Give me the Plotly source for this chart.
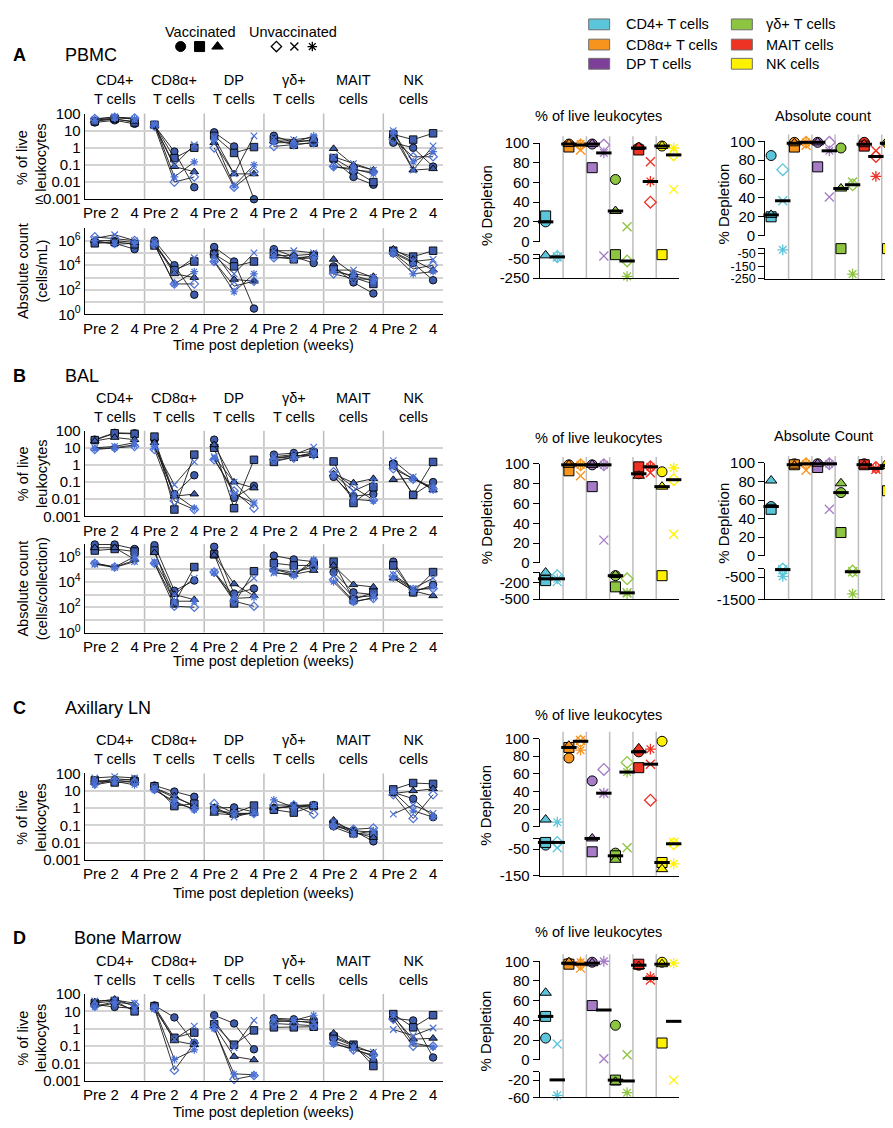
import numpy as np
import plotly.graph_objects as go

W, H = 893, 1128
OFF = 8  # page margin of the viewer: figure appears shifted by this many pixels
FONT = "Liberation Sans, Arial, Helvetica, sans-serif"

# ---------------- categories / labels ----------------
CELL_TYPES = ["CD4", "CD8", "DP", "GD", "MAIT", "NK"]
CELL_TITLES = ["CD4+<br>T cells", "CD8α+<br>T cells", "DP<br>T cells",
               "γδ+<br>T cells", "MAIT<br>cells", "NK<br>cells"]
LEGEND_NAMES = ["CD4+ T cells", "CD8α+ T cells", "DP T cells",
                "γδ+ T cells", "MAIT cells", "NK cells"]
TIMEPOINTS = ["Pre", "2", "4"]
ANIMALS = ["Vacc 1", "Vacc 2", "Vacc 3", "Unvacc 1", "Unvacc 2", "Unvacc 3"]
VACCINATED = [True, True, True, False, False, False]
SYMBOLS = ["circle", "square", "triangle-up", "diamond-open", "x-thin-open", "asterisk-open"]

# ---------------- time-course data (6 animals x [Pre, 2, 4]) ----------------
PBMC_PCT = {
    "CD4": [[30, 40, 25], [35, 50, 30], [40, 45, 35], [50, 60, 55], [45, 65, 45], [40, 55, 50]],
    "CD8": [[20, 0.6, 0.005], [22, 0.25, 1.0], [20, 0.08, 0.04], [18, 0.01, 0.02], [20, 0.1, 1.5], [25, 0.02, 0.15]],
    "DP": [[8, 1.2, 0.001], [5, 0.5, 1.1], [2, 0.03, 0.03], [1, 0.005, 0.04], [4, 0.03, 5], [3, 0.006, 0.1]],
    "GD": [[5, 2, 3], [3, 1.5, 2], [2.5, 2.5, 2.5], [1.2, 1.5, 2], [3.5, 3, 4], [2, 2, 5]],
    "MAIT": [[0.2, 0.02, 0.007], [0.25, 0.05, 0.01], [0.9, 0.1, 0.05], [0.08, 0.05, 0.04], [0.3, 0.12, 0.05], [0.08, 0.06, 0.03]],
    "NK": [[2, 1, 0.08], [6, 3, 7], [5, 0.05, 0.06], [3, 0.3, 0.3], [10, 0.05, 1.3], [8, 0.15, 0.6]],
}
PBMC_ABS = {
    "CD4": [[7e5, 6e5, 2e5], [6e5, 8e5, 5e5], [1e6, 1e6, 7e5], [2e6, 1.5e6, 1e6], [1.5e6, 3e6, 1e6], [1e6, 5e5, 6e5]],
    "CD8": [[1e6, 1e4, 40], [4e5, 4e3, 2e4], [6e5, 2e3, 1e3], [5e5, 300, 300], [7e5, 3e3, 4e4], [5e5, 300, 3e3]],
    "DP": [[3e5, 2e4, 3], [8e4, 8e3, 2e4], [1e5, 700, 500], [2e4, 200, 500], [6e4, 2e3, 1e5], [2e4, 70, 2e3]],
    "GD": [[2e5, 5e4, 1.5e4], [1e5, 3e4, 6e4], [6e4, 6e4, 8e4], [4e4, 4e4, 5e4], [1.5e5, 1.5e5, 1e5], [5e4, 3e4, 4e4]],
    "MAIT": [[8e3, 400, 50], [5e3, 1e3, 300], [3e4, 2e3, 1.2e3], [2e3, 800, 700], [4e3, 4e3, 1e3], [3e3, 1.5e3, 500]],
    "NK": [[1e5, 1.5e4, 600], [1.5e5, 5e4, 1.5e5], [2e5, 3e4, 4e3], [1e5, 5e3, 1e4], [1.2e5, 2e4, 3e4], [8e4, 2e3, 3e3]],
}
BAL_PCT = {
    "CD4": [[30, 75, 70], [28, 70, 65], [25, 40, 30], [8, 10, 12], [10, 12, 20], [9, 10, 15]],
    "CD8": [[30, 0.02, 0.25], [45, 0.0025, 4], [20, 0.015, 0.02], [8, 0.008, 0.0025], [10, 0.07, 1.5], [12, 0.02, 0.003]],
    "DP": [[30, 0.012, 0.06], [10, 0.003, 2], [15, 0.1, 0.045], [2, 0.03, 0.003], [3, 0.1, 0.006], [2.5, 0.02, 0.006]],
    "GD": [[4, 5, 6], [1.5, 3, 5], [2.5, 3.5, 3.5], [2, 2.5, 4], [3, 4, 11], [2.5, 3, 5]],
    "MAIT": [[0.2, 0.015, 0.02], [1.6, 0.006, 0.05], [0.3, 0.09, 0.16], [0.4, 0.05, 0.009], [0.3, 0.03, 0.1], [0.25, 0.01, 0.008]],
    "NK": [[1.2, 0.018, 0.1], [1, 0.018, 1.5], [0.14, 0.17, 0.035], [0.6, 0.15, 0.04], [1.8, 0.2, 0.035], [0.8, 0.15, 0.05]],
}
BAL_ABS = {
    "CD4": [[9e6, 9e6, 4e6], [3e6, 4e6, 2.5e6], [5e6, 5e6, 6e5], [3e5, 1.5e5, 5e5], [2.5e5, 1.4e5, 4e5], [3e5, 1.5e5, 1e6]],
    "CD8": [[8e6, 2e3, 1.3e4], [3e6, 200, 1.5e5], [2e6, 1e3, 400], [3e5, 120, 100], [4e5, 1e3, 2e4], [3e5, 300, 300]],
    "DP": [[6e6, 1.2e3, 3e3], [1.5e6, 200, 7e4], [1.3e6, 7e3, 800], [6e4, 300, 120], [6e4, 800, 2e4], [5e4, 500, 600]],
    "GD": [[1.2e6, 6e5, 4e5], [3e5, 2e5, 2e5], [1e5, 4e4, 8e4], [1e5, 6e4, 1.5e5], [5e4, 4e4, 3e5], [6e4, 3e4, 6e5]],
    "MAIT": [[6e4, 1.5e3, 1e3], [4e5, 400, 1.5e3], [2e5, 6e3, 4e3], [1.5e4, 300, 500], [3e4, 600, 800], [1e4, 250, 600]],
    "NK": [[4e5, 1.5e3, 6e3], [2e5, 1.5e3, 6e4], [2e4, 2e3, 800], [3e4, 2.5e3, 3e3], [4e4, 3e3, 2e4], [2e4, 2e3, 4e3]],
}
LN_PCT = {
    "CD4": [[35, 40, 45], [40, 30, 35], [30, 50, 40], [25, 40, 30], [55, 65, 55], [22, 35, 22]],
    "CD8": [[20, 9, 4.5], [18, 1.3, 1.8], [15, 5, 1.2], [12, 2, 0.9], [14, 4, 1.5], [11, 2.5, 0.8]],
    "DP": [[1.0, 1.1, 0.6], [0.8, 0.5, 1.4], [0.5, 0.4, 0.5], [1.8, 0.5, 0.5], [1.2, 0.3, 0.6], [0.7, 0.45, 0.5]],
    "GD": [[1, 1.3, 1.5], [0.8, 0.55, 1.3], [1.1, 1.2, 1.2], [1.5, 1.5, 0.45], [0.9, 1.4, 1.6], [3, 1.1, 1.4]],
    "MAIT": [[0.09, 0.05, 0.012], [0.12, 0.035, 0.03], [0.2, 0.04, 0.02], [0.1, 0.06, 0.07], [0.15, 0.05, 0.04], [0.08, 0.03, 0.05]],
    "NK": [[8, 3.5, 0.3], [12, 28, 25], [7, 10, 13], [6, 0.25, 6], [0.45, 1.5, 0.5], [9, 0.7, 0.3]],
}
BM_PCT = {
    "CD4": [[25, 18, 15], [30, 40, 10], [35, 50, 20], [20, 35, 25], [40, 45, 30], [18, 30, 12]],
    "CD8": [[22, 4.5, 0.15], [20, 0.3, 0.6], [18, 0.2, 0.12], [15, 0.004, 0.15], [14, 0.25, 1.4], [16, 0.017, 0.06]],
    "DP": [[6, 2, 0.065], [1.8, 0.12, 0.8], [1.5, 0.025, 0.016], [1.2, 0.0012, 0.002], [3, 0.08, 3], [1.0, 0.0025, 0.0022]],
    "GD": [[4, 3.5, 3.2], [1.2, 1.2, 1.3], [3, 2.5, 2.8], [2, 1.8, 1.5], [2.5, 3, 2], [3.5, 3, 6]],
    "MAIT": [[0.3, 0.1, 0.013], [0.35, 0.12, 0.007], [0.55, 0.11, 0.04], [0.15, 0.06, 0.03], [0.2, 0.08, 0.045], [0.13, 0.07, 0.025]],
    "NK": [[4, 3, 0.022], [7, 1.2, 6], [5, 0.25, 0.28], [3.5, 0.1, 0.1], [0.9, 0.4, 1.1], [6, 0.15, 0.09]],
}

# ---------------- % depletion data: (vaccinated [o, sq, tri], unvaccinated [dia, x, ast]) ----------------
DEP_PBMC_PCT = {
    "CD4": ([20, 26, -17], [-30, -33, -35]),
    "CD8": ([99, 96, 99], [98, 93, 99]),
    "DP": ([99, 75, 99], [98, -23, 90]),
    "GD": ([63, -10, 31], [-75, 15, -233]),
    "MAIT": ([95, 93, 96], [40, 81, 61]),
    "NK": ([97, -10, 97], [88, 53, 95]),
}
DEP_PBMC_ABS = {
    "CD4": ([85, 20, 22], [70, 37, -17]),
    "CD8": ([99, 94, 98], [99, 96, 99]),
    "DP": ([99, 73, 99], [99, 41, 90]),
    "GD": ([93, -8, 50], [54, 57, -211]),
    "MAIT": ([99, 95, 97], [84, 90, 63]),
    "NK": ([98, -8, 99], [97, 95, 93]),
}
DEP_BAL_PCT = {
    "CD4": ([-137, -169, -25], [-81, -188, -137]),
    "CD8": ([99, 93, 99], [99, 88, 99]),
    "DP": ([99, 77, 99], [99, 23, 99]),
    "GD": ([-81, -281, -69], [-137, -388, -400]),
    "MAIT": ([90, 97, 88], [97, 91, 97]),
    "NK": ([92, -81, 77], [84, 29, 96]),
}
DEP_BAL_ABS = {
    "CD4": ([53, 50, 81], [-140, -165, -470]),
    "CD8": ([99, 98, 97], [99, 92, 99]),
    "DP": ([99, 95, 99], [99, 50, 99]),
    "GD": ([68, 25, 78], [-230, -260, -1250]),
    "MAIT": ([99, 98, 97], [95, 93, 94]),
    "NK": ([98, 70, 97], [96, 90, 95]),
}
DEP_LN_PCT = {
    "CD4": ([-35, -25, 8], [-25, -45, 5]),
    "CD8": ([78, 90, 92], [97, 98, 87]),
    "DP": ([52, -60, -10], [65, 38, 38]),
    "GD": ([-65, -75, -90], [73, -45, 62]),
    "MAIT": ([85, 67, 89], [30, 71, 88]),
    "NK": ([97, -100, -125], [-30, -25, -105]),
}
DEP_BM_PCT = {
    "CD4": ([22, 44, 68], [None, 16, -55]),
    "CD8": ([98, 97, 99], [97, 93, 99]),
    "DP": ([99, 55, 98], [None, 1, 100]),
    "GD": ([35, -20, -24], [None, 5, -49]),
    "MAIT": ([96, 97, 95], [None, 81, 84]),
    "NK": ([99, 17, 97], [None, -20, 98]),
}

# ---------------- styles ----------------
MCOL = {"CD4": "#5BC5DB", "CD8": "#F7941E", "DP": "#A57CC5",
        "GD": "#8DC540", "MAIT": "#EE3224", "NK": "#FFF200"}
LCOL = {"CD4": "#5BC5DB", "CD8": "#F7941E", "DP": "#7E3F98",
        "GD": "#8DC540", "MAIT": "#EE3224", "NK": "#FFF200"}
VAC_FILL = "#3E5CAB"
UNV_COL = "#4D72D6"
SEP_COL = "#BDBDBD"
GRID_COL = "#D3D3D3"


def PX(x):
    return (x - OFF) / W


def PY(y):
    return 1 - (y - OFF) / H


def axkey(c, n):
    return f"{c}axis" if n == 1 else f"{c}axis{n}"


def axref(c, n):
    return c if n == 1 else f"{c}{n}"


fig = go.Figure()
layout = dict(width=W, height=H, margin=dict(l=0, r=0, t=0, b=0),
              paper_bgcolor="white", plot_bgcolor="rgba(0,0,0,0)",
              showlegend=False, font=dict(family=FONT, size=14.5, color="black"))
shapes, annotations = [], []


def ann(text, x, y, size=14.5, xanchor="center", angle=0, bold=False):
    if bold:
        text = f"<b>{text}</b>"
    annotations.append(dict(text=text, x=PX(x), y=PY(y), xref="paper", yref="paper",
                            xanchor=xanchor, yanchor="middle", showarrow=False,
                            textangle=angle, font=dict(size=size, family=FONT, color="black")))


LX0, LX1 = 83, 442


def add_left(n, data, ytop, ybot, kind, le001=False, titles=True):
    xr, yr = axref("x", n), axref("y", n)
    layout[axkey("x", n)] = dict(domain=[PX(LX0), PX(LX1)], range=[-0.5, 17.5], anchor=yr,
                                 tickmode="array", tickvals=list(range(18)), ticktext=TIMEPOINTS * 6,
                                 showline=True, linecolor="black", linewidth=1.3, ticks="",
                                 showgrid=False, zeroline=False, tickfont=dict(size=15))
    if kind == "pct":
        rng = [-3, 2]
        tv = [1e-3, 1e-2, 0.1, 1, 10, 100]
        tt = ["≤0.001" if le001 else "0.001", "0.01", "0.1", "1", "10", "100"]
    else:
        rng = [0, 7]
        tv = [10 ** k for k in range(8)]
        tt = ["10<sup>0</sup>", " ", "10<sup>2</sup>", " ", "10<sup>4</sup>", " ", "10<sup>6</sup>", " "]
    layout[axkey("y", n)] = dict(domain=[PY(ybot), PY(ytop)], type="log", range=rng, anchor=xr,
                                 tickmode="array", tickvals=tv, ticktext=tt,
                                 showline=True, linecolor="black", linewidth=1.3, ticks="",
                                 showgrid=True, gridcolor=GRID_COL, gridwidth=1.5,
                                 zeroline=False, tickfont=dict(size=15))
    for k in range(1, 6):
        shapes.append(dict(type="line", xref=xr, yref=f"{yr} domain", x0=3 * k - 0.5, x1=3 * k - 0.5,
                           y0=0, y1=1, line=dict(color=SEP_COL, width=1.5), layer="below"))
    for a, name in enumerate(ANIMALS):
        xs, ys = [], []
        for g, ct in enumerate(CELL_TYPES):
            xs += [3 * g, 3 * g + 1, 3 * g + 2, None]
            ys += list(data[ct][a]) + [None]
        if VACCINATED[a]:
            marker = dict(symbol=SYMBOLS[a], size=7.5, color=VAC_FILL, line=dict(color="black", width=0.9))
        else:
            marker = dict(symbol=SYMBOLS[a], size=6.5, color=UNV_COL, line=dict(color=UNV_COL, width=1.2))
        fig.add_trace(go.Scatter(x=xs, y=ys, xaxis=xr, yaxis=yr, mode="lines+markers", name=name,
                                 line=dict(color="#1A1A1A", width=0.9), marker=marker,
                                 cliponaxis=False, connectgaps=False))
    if titles:
        for g, t in enumerate(CELL_TITLES):
            annotations.append(dict(text=t, x=3 * g + 1, xref=xr, y=PY(ytop - 24), yref="paper",
                                    xanchor="center", yanchor="middle", showarrow=False,
                                    font=dict(size=14.5, family=FONT)))


def add_right(nt, nb, data, xl, xr_full, y100, y0, bt, bb, brange, bticks, bfont=15):
    unit = (xr_full - xl) / 12.0
    xend = min(xr_full, W)
    rng = [-0.5, -0.5 + (xend - xl) / unit]
    xdom = [PX(xl), PX(xend)]
    xt, yt, xb, yb = axref("x", nt), axref("y", nt), axref("x", nb), axref("y", nb)
    layout[axkey("x", nt)] = dict(domain=xdom, range=rng, anchor=yt, visible=False)
    layout[axkey("y", nt)] = dict(domain=[PY(y0), PY(y100)], range=[0, 100], anchor=xt,
                                  tickvals=[0, 20, 40, 60, 80, 100], showline=True, linecolor="black",
                                  linewidth=1.3, ticks="outside", ticklen=6, tickwidth=1.3,
                                  tickcolor="black", showgrid=False, zeroline=False,
                                  tickfont=dict(size=15))
    layout[axkey("x", nb)] = dict(domain=xdom, range=rng, anchor=yb, showline=True, linecolor="black",
                                  linewidth=1.3, showticklabels=False, ticks="", showgrid=False,
                                  zeroline=False)
    layout[axkey("y", nb)] = dict(domain=[PY(bb), PY(bt)], range=brange, anchor=xb,
                                  tickmode="array", tickvals=list(bticks) + [brange[1]],
                                  ticktext=[str(v) for v in bticks] + [" "],
                                  showline=True, linecolor="black", linewidth=1.3, ticks="outside",
                                  ticklen=6, tickwidth=1.3, tickcolor="black", showgrid=False,
                                  zeroline=False, tickfont=dict(size=bfont))
    for k in range(1, 6):
        shapes.append(dict(type="line", xref=xt, yref="paper", x0=2 * k - 0.5, x1=2 * k - 0.5,
                           y0=PY(bb), y1=PY(y100 - 7), line=dict(color=SEP_COL, width=1.5),
                           layer="below"))
    # individual animals
    for a, name in enumerate(ANIMALS):
        vac = VACCINATED[a]
        for top in (True, False):
            xs, ys, cs = [], [], []
            for g, ct in enumerate(CELL_TYPES):
                v = data[ct][0 if vac else 1][a % 3]
                if v is None or (v >= 0) != top:
                    continue
                xs.append(2 * g + (0 if vac else 1))
                ys.append(v)
                cs.append(MCOL[ct])
            if not xs:
                continue
            if vac:
                marker = dict(symbol=SYMBOLS[a], size=10, color=cs, line=dict(color="black", width=1))
            else:
                marker = dict(symbol=SYMBOLS[a], size=9, color=cs, line=dict(color=cs, width=1.3))
            fig.add_trace(go.Scatter(x=xs, y=ys, mode="markers", name=name, marker=marker,
                                     xaxis=xt if top else xb, yaxis=yt if top else yb,
                                     cliponaxis=False))
    # medians
    for top in (True, False):
        xs, ys = [], []
        for g, ct in enumerate(CELL_TYPES):
            for side in (0, 1):
                vals = [v for v in data[ct][side] if v is not None]
                m = float(np.median(vals))
                if (m >= 0) == top:
                    xs.append(2 * g + side)
                    ys.append(m)
        if xs:
            fig.add_trace(go.Scatter(x=xs, y=ys, mode="markers", name="median",
                                     marker=dict(symbol="line-ew", size=11, color="black",
                                                 line=dict(color="black", width=3)),
                                     xaxis=xt if top else xb, yaxis=yt if top else yb,
                                     cliponaxis=False))


# ---------------- left time-course panels ----------------
add_left(1, PBMC_PCT, 106, 193, "pct", le001=True)
add_left(2, PBMC_ABS, 222.5, 310, "abs", titles=False)
add_left(3, BAL_PCT, 428, 515, "pct")
add_left(4, BAL_ABS, 543, 633, "abs", titles=False)
add_left(5, LN_PCT, 776, 864, "pct")
add_left(6, BM_PCT, 1000, 1088, "pct")

# ---------------- right depletion panels ----------------
add_right(7, 8, DEP_PBMC_PCT, 539, 679, 136, 236, 249, 273, [-250, -7], [-50, -250])
add_right(9, 10, DEP_PBMC_ABS, 765, 905, 134.3, 230, 243, 274, [-250, -6.5], [-50, -150, -250], bfont=12.5)
add_right(11, 12, DEP_BAL_PCT, 539, 679, 461.7, 562.3, 571.7, 599, [-500, -19], [-200, -500])
add_right(13, 14, DEP_BAL_ABS, 765, 905, 460.7, 555, 568.3, 599.3, [-1500, -132], [-500, -1500])
add_right(15, 16, DEP_LN_PCT, 539, 679, 740.7, 830, 842, 880, [-150, -10], [-50, -150])
add_right(17, 18, DEP_BM_PCT, 539, 679, 966.7, 1066.7, 1079, 1105, [-60, -1], [-20, -60])

# ---------------- overlay axis for legend glyphs (pixel frame of the reference) ----------------
layout["xaxis19"] = dict(domain=[0, 1], range=[OFF, W + OFF], visible=False, fixedrange=True, anchor="y19")
layout["yaxis19"] = dict(domain=[0, 1], range=[H + OFF, OFF], visible=False, fixedrange=True, anchor="x19")
fig.add_trace(go.Scatter(x=[179, 198, 216], y=[38, 38, 38], xaxis="x19", yaxis="y19", mode="markers",
                         marker=dict(symbol=SYMBOLS[:3], size=10, color="black",
                                     line=dict(color="black", width=1)), hoverinfo="skip"))
fig.add_trace(go.Scatter(x=[275, 293, 311], y=[38, 38, 38], xaxis="x19", yaxis="y19", mode="markers",
                         marker=dict(symbol=SYMBOLS[3:], size=8, color="black",
                                     line=dict(color="black", width=1.3)), hoverinfo="skip"))
ann("Vaccinated", 199, 23)
ann("Unvaccinated", 292, 23)

# colour legend
for i, ct in enumerate(CELL_TYPES):
    col, row = divmod(i, 3)
    bx = 588 if col == 0 else 731
    tx = 623 if col == 0 else 764
    yc = [15.5, 36, 55.5][row]
    shapes.append(dict(type="rect", xref="paper", yref="paper", x0=PX(bx), x1=PX(bx + 21),
                       y0=PY(yc + 5.5), y1=PY(yc - 5.5), fillcolor=LCOL[ct],
                       line=dict(color="#6E6E6E", width=1)))
    ann(LEGEND_NAMES[i], tx, yc, xanchor="left")

# panel letters and tissue titles
for letter, tissue, y, tx in [("A", "PBMC", 47, 61), ("B", "BAL", 372, 61),
                               ("C", "Axillary LN", 710, 61), ("D", "Bone Marrow", 943, 70)]:
    ann(letter, 18, y, size=18, bold=True)
    ann(tissue, tx, y, size=18, xanchor="left")

# axis titles (left)
for txt, yc in [("% of live<br>leukocytes", 150), ("Absolute count<br>(cells/mL)", 266),
                ("% of live<br>leukocytes", 471), ("Absolute count<br>(cells/collection)", 588),
                ("% of live<br>leukocytes", 820), ("% of live<br>leukocytes", 1044)]:
    ann(txt, 30, yc, angle=-90)
for yc in [341, 662, 897, 1120]:
    ann("Time post depletion (weeks)", 262, yc)

# right panel titles
for txt, x, y in [("% of live leukocytes", 598, 109), ("Absolute count", 823, 109),
                  ("% of live leukocytes", 598, 435), ("Absolute Count", 823, 433),
                  ("% of live leukocytes", 598, 717), ("% of live leukocytes", 598, 937)]:
    ann(txt, x, y)
for x, y in [(485, 199), (723, 198), (485, 522), (723, 522), (485, 808), (485, 1037)]:
    ann("% Depletion", x, y, size=15, angle=-90)

layout["shapes"] = shapes
layout["annotations"] = annotations
fig.update_layout(**layout)
fig.write_html("out.html")
